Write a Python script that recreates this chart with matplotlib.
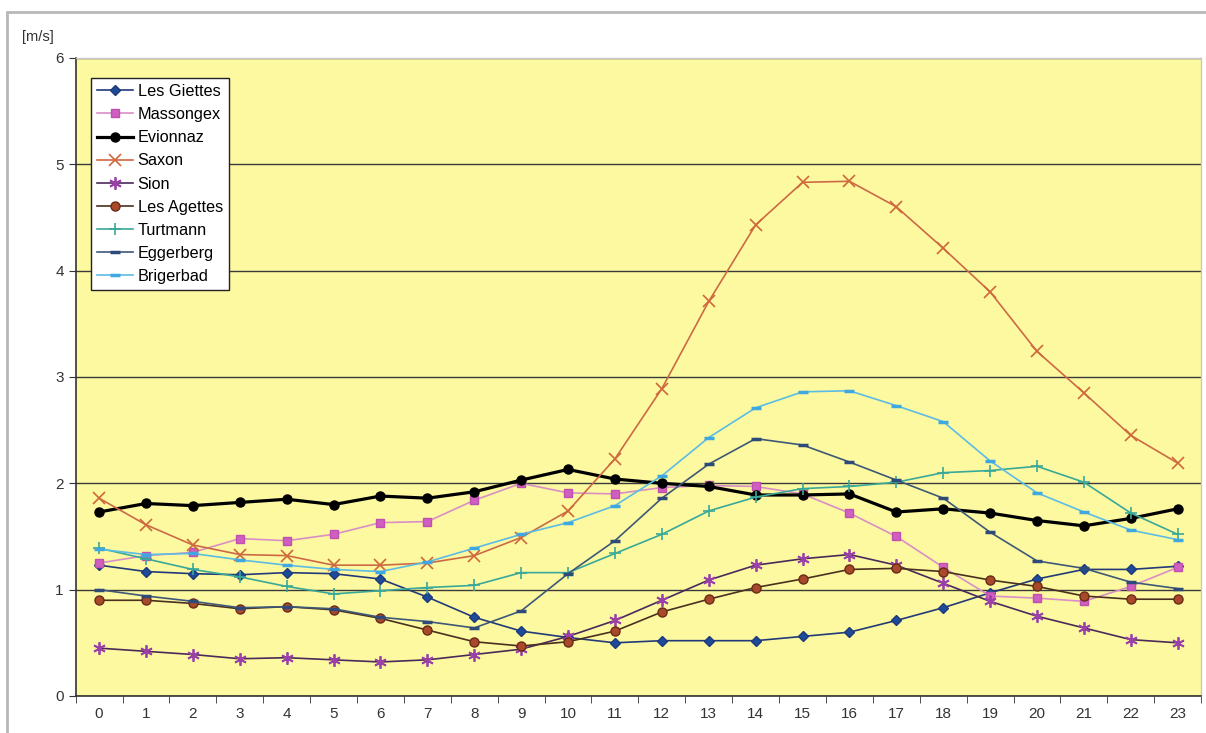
import matplotlib.pyplot as plt
from matplotlib.patches import Rectangle

plt.rcParams['font.family'] = ['Liberation Sans', 'DejaVu Sans']

hours = list(range(24))

les_giettes = [1.23, 1.17, 1.15, 1.14, 1.16, 1.15, 1.10, 0.93, 0.74, 0.61, 0.55, 0.50,
               0.52, 0.52, 0.52, 0.56, 0.60, 0.71, 0.83, 0.97, 1.10, 1.19, 1.19, 1.22]
massongex = [1.25, 1.32, 1.35, 1.48, 1.46, 1.52, 1.63, 1.64, 1.84, 2.00, 1.91, 1.90,
             1.96, 1.98, 1.97, 1.90, 1.72, 1.50, 1.21, 0.94, 0.92, 0.89, 1.03, 1.21]
evionnaz = [1.73, 1.81, 1.79, 1.82, 1.85, 1.80, 1.88, 1.86, 1.92, 2.03, 2.13, 2.04,
            2.00, 1.97, 1.89, 1.89, 1.90, 1.73, 1.76, 1.72, 1.65, 1.60, 1.67, 1.76]
saxon = [1.86, 1.61, 1.42, 1.33, 1.32, 1.23, 1.23, 1.25, 1.32, 1.49, 1.74, 2.23,
         2.89, 3.71, 4.43, 4.83, 4.84, 4.60, 4.21, 3.80, 3.24, 2.85, 2.45, 2.19]
sion = [0.45, 0.42, 0.39, 0.35, 0.36, 0.34, 0.32, 0.34, 0.39, 0.44, 0.56, 0.71,
        0.90, 1.09, 1.23, 1.29, 1.33, 1.23, 1.06, 0.89, 0.75, 0.64, 0.53, 0.50]
les_agettes = [0.90, 0.90, 0.87, 0.82, 0.84, 0.81, 0.73, 0.62, 0.51, 0.47, 0.51, 0.61,
               0.79, 0.91, 1.02, 1.10, 1.19, 1.20, 1.17, 1.09, 1.03, 0.94, 0.91, 0.91]
turtmann = [1.39, 1.29, 1.19, 1.12, 1.03, 0.96, 0.99, 1.02, 1.04, 1.16, 1.16, 1.34,
            1.52, 1.74, 1.87, 1.95, 1.97, 2.01, 2.10, 2.12, 2.16, 2.01, 1.72, 1.52]
eggerberg = [1.00, 0.94, 0.89, 0.83, 0.84, 0.82, 0.74, 0.70, 0.64, 0.80, 1.15, 1.46,
             1.86, 2.18, 2.42, 2.36, 2.20, 2.03, 1.86, 1.54, 1.27, 1.20, 1.07, 1.01]
brigerbad = [1.38, 1.33, 1.34, 1.28, 1.23, 1.19, 1.17, 1.26, 1.39, 1.52, 1.63, 1.79,
             2.07, 2.43, 2.71, 2.86, 2.87, 2.73, 2.58, 2.21, 1.91, 1.73, 1.56, 1.47]

fig = plt.figure(figsize=(12.06, 7.33), dpi=100)
ax = fig.add_axes([0.0627, 0.0505, 0.9333, 0.8705])
ax.set_facecolor('#fdf9a0')

# rahmen um die ganze grafik
fig.patches.append(Rectangle((0.006, -0.01), 1.2, 0.993, transform=fig.transFigure,
                             fill=False, edgecolor='#b8b8b8', linewidth=2))

ax.plot(hours, les_giettes, color='#223a78', lw=1.2, marker='D', ms=5.5,
        mfc='#1e4a9a', mec='#1e3a7a', label='Les Giettes')
ax.plot(hours, massongex, color='#d98fc6', lw=1.2, marker='s', ms=6,
        mfc='#d060c0', mec='#c050b0', label='Massongex')
ax.plot(hours, evionnaz, color='black', lw=2.3, marker='o', ms=6.5,
        mfc='black', mec='black', label='Evionnaz')
ax.plot(hours, saxon, color='#cc6a44', lw=1.2, marker='x', ms=8, mew=1.2,
        mec='#d0683a', label='Saxon')
ax.plot(hours, sion, color='#4a2a5a', lw=1.2, marker=(6, 2, 0), ms=9, mew=1.3,
        mec='#9a40a8', label='Sion')
ax.plot(hours, les_agettes, color='#4a3020', lw=1.2, marker='o', ms=6.5,
        mfc='#a84a2a', mec='#6a2a18', label='Les Agettes')
ax.plot(hours, turtmann, color='#3aa898', lw=1.2, marker='+', ms=9, mew=1.2,
        mec='#3aa898', label='Turtmann')
ax.plot(hours, eggerberg, color='#3e5878', lw=1.2, marker='_', ms=7, mew=2.5,
        mec='#2e4a78', label='Eggerberg')
ax.plot(hours, brigerbad, color='#5cbce4', lw=1.2, marker='_', ms=7, mew=2.5,
        mec='#40a8e0', label='Brigerbad')

ax.set_xlim(-0.5, 23.5)
ax.set_ylim(0, 6)
ax.set_yticks(range(7))
ax.set_xticks(hours)
ax.set_xticklabels([str(h) for h in hours])
ax.set_xticks([h - 0.5 for h in range(25)], minor=True)
ax.tick_params(axis='x', which='major', length=0, pad=8, labelsize=11, colors='#333333')
ax.tick_params(axis='x', which='minor', length=5, direction='out', color='#333333')
ax.tick_params(axis='y', length=5, direction='out', labelsize=11, colors='#333333')
ax.grid(True, axis='y', color='#3a3a3a', lw=1.0)
ax.set_axisbelow(True)

for s in ['left', 'bottom']:
    ax.spines[s].set_color('#333333')
    ax.spines[s].set_linewidth(1.2)
for s in ['top', 'right']:
    ax.spines[s].set_color('#c8c8c8')
    ax.spines[s].set_linewidth(1.0)

fig.text(0.018, 0.95, '[m/s]', fontsize=10.5, color='#333333', va='center')

leg = ax.legend(loc='upper left', bbox_to_anchor=(0.014, 0.968), fontsize=11.7,
                frameon=True, fancybox=False, edgecolor='#222222', facecolor='white',
                framealpha=1, labelspacing=0.5, handlelength=2.2, handletextpad=0.3,
                borderpad=0.35, borderaxespad=0)
leg.get_frame().set_linewidth(1.0)

plt.savefig('out.png', dpi=100)
